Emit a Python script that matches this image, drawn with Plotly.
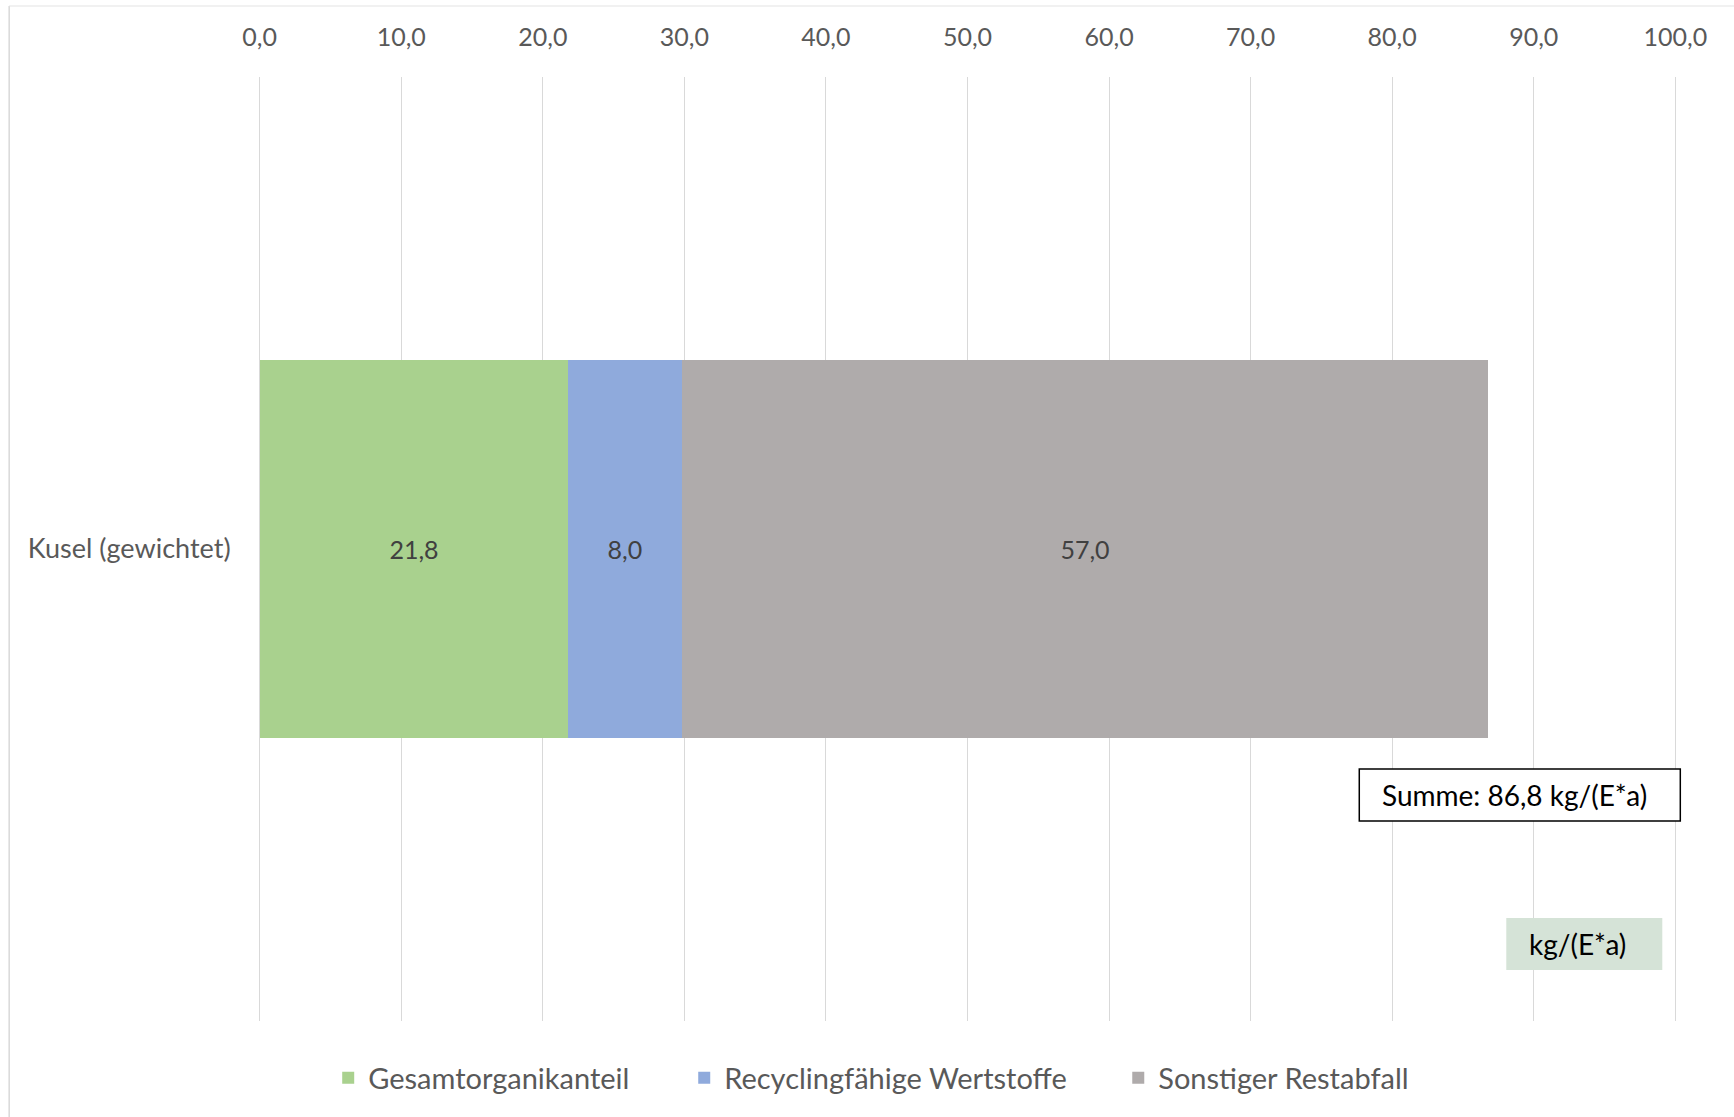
import plotly.graph_objects as go

categories = ["Kusel (gewichtet)"]
series_names = ["Gesamtorganikanteil", "Recyclingfähige Wertstoffe", "Sonstiger Restabfall"]
organik = [21.8]
wertstoffe = [8.0]
restabfall = [57.0]
series_values = [organik, wertstoffe, restabfall]
series_colors = ["#A9D18E", "#8FAADC", "#AFABAB"]
tick_values = [0, 10, 20, 30, 40, 50, 60, 70, 80, 90, 100]
unit_label = "kg/(E*a)"

FONT = "Lato"
W, H = 1734, 1117
X0PX, X100PX = 259.5, 1675.0          # pixel positions of 0 and 100
PT, PB = 77.0, 1021.0
XR = [-0.12, 100.12]
PPU = (X100PX - X0PX) / 100.0
PL = X0PX + XR[0] * PPU
PR = X0PX + XR[1] * PPU


def px(x):
    return (x - PL) / (PR - PL)


def py(y):
    return (PB - y) / (PB - PT)


legend_ids = ["legend", "legend2", "legend3"]
legend_text_start = [370, 726, 1160]

fig = go.Figure()
for name, vals, col, lid in zip(series_names, series_values, series_colors, legend_ids):
    fig.add_trace(go.Bar(
        y=categories, x=vals, name=name, orientation="h", legend=lid,
        marker=dict(color=col, line=dict(width=0)),
        texttemplate="%{x:.1f}", textposition="inside",
        insidetextanchor="middle", textangle=0,
        textfont=dict(family=FONT, size=25, color="#404040"),
    ))

total = sum(v[0] for v in series_values)
total_txt = f"{total:.1f}".replace(".", ",")

legend_common = dict(
    orientation="h", xanchor="left", y=py(1078), yanchor="middle",
    font=dict(family=FONT, size=29, color="#595959"),
    itemwidth=30, bgcolor="rgba(0,0,0,0)", borderwidth=0,
)

layout_legends = {}
for lid, ts in zip(legend_ids, legend_text_start):
    layout_legends[lid] = dict(legend_common, x=px(ts - 42))

fig.update_layout(
    width=W, height=H,
    margin=dict(l=PL, r=W - PR, t=PT, b=H - PB, pad=0),
    barmode="stack", bargap=0.6,
    separators=",.",
    plot_bgcolor="white", paper_bgcolor="white",
    font=dict(family=FONT, size=25, color="#595959"),
    showlegend=True,
    xaxis=dict(
        side="top", range=XR, tickvals=tick_values, tickformat=".1f",
        showgrid=True, gridcolor="#D9D9D9", gridwidth=1.3,
        zeroline=False, showline=False,
        ticks="outside", ticklen=20, tickcolor="rgba(0,0,0,0)",
        tickfont=dict(family=FONT, size=25, color="#595959"),
        fixedrange=True,
    ),
    yaxis=dict(
        showgrid=False, zeroline=False, showline=False,
        ticks="outside", ticklen=21, tickcolor="rgba(0,0,0,0)",
        tickfont=dict(family=FONT, size=27, color="#595959"),
        range=[-0.5, 0.5],
    ),
    **layout_legends,
)

shapes = [
    # chart area border (left & top)
    dict(type="line", xref="paper", yref="paper", x0=px(9), x1=px(9), y0=py(6), y1=py(1130),
         line=dict(color="#D9D9D9", width=1.5)),
    dict(type="line", xref="paper", yref="paper", x0=px(9), x1=px(1760), y0=py(6), y1=py(6),
         line=dict(color="#E3E3E3", width=1.2)),
    # Summe box
    dict(type="rect", xref="paper", yref="paper", x0=px(1359), x1=px(1680), y0=py(821), y1=py(769),
         line=dict(color="#000000", width=1.5), fillcolor="white"),
    # unit box
    dict(type="rect", xref="paper", yref="paper", x0=px(1506), x1=px(1662), y0=py(970), y1=py(918),
         line=dict(width=0), fillcolor="#D5E3D7"),
]
fig.update_layout(shapes=shapes)

fig.add_annotation(xref="paper", yref="paper", x=px(1380), y=py(795), xanchor="left", yanchor="middle",
                   text=f"Summe: {total_txt} {unit_label}", showarrow=False,
                   font=dict(family=FONT, size=28, color="#000000"))
fig.add_annotation(xref="paper", yref="paper", x=px(1577), y=py(944), xanchor="center", yanchor="middle",
                   text=unit_label, showarrow=False,
                   font=dict(family=FONT, size=28, color="#000000"))

fig.write_html("out.html")
